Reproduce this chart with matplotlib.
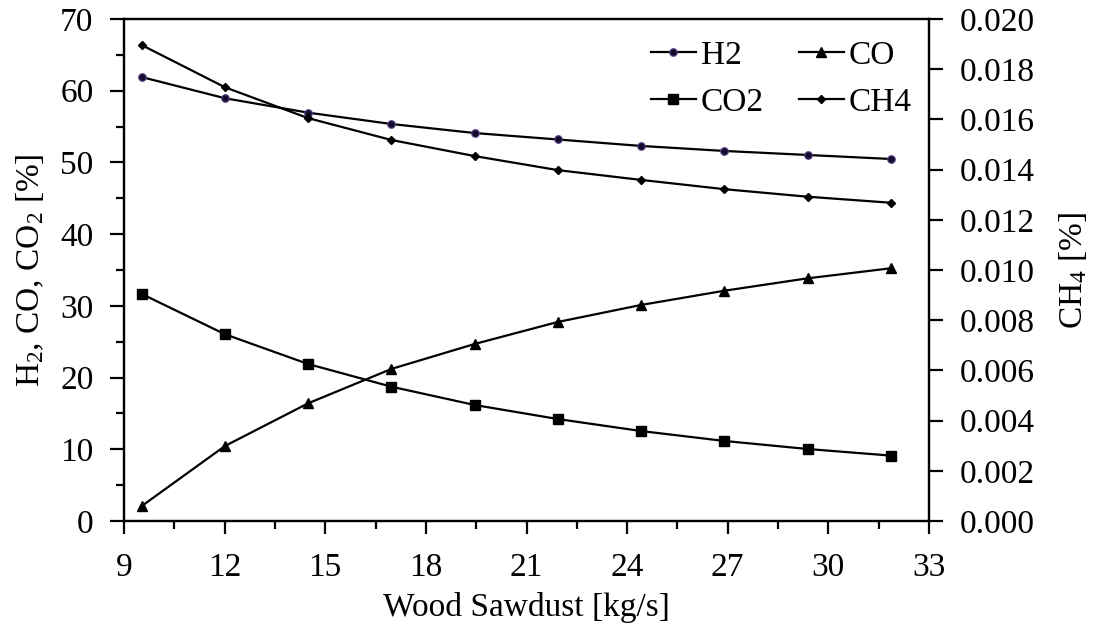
import matplotlib.pyplot as plt
from matplotlib.ticker import MultipleLocator

plt.rcParams['font.family'] = ['Liberation Serif', 'DejaVu Serif']
plt.rcParams['mathtext.fontset'] = 'custom'
plt.rcParams['mathtext.rm'] = 'Liberation Serif'
plt.rcParams['mathtext.it'] = 'Liberation Serif:italic'

# data
sawdust = [9.53, 12.01, 14.49, 16.97, 19.45, 21.93, 24.41, 26.90, 29.38, 31.86]
h2 = [61.9, 58.95, 56.94, 55.36, 54.1, 53.2, 52.3, 51.6, 51.04, 50.48]
co = [2.09, 10.46, 16.41, 21.2, 24.68, 27.75, 30.12, 32.11, 33.84, 35.24]
co2 = [31.66, 26.04, 21.89, 18.73, 16.18, 14.22, 12.55, 11.16, 10.04, 9.12]
ch4 = [0.01896, 0.01728, 0.01605, 0.01518, 0.01454, 0.01398, 0.01359, 0.01322, 0.01292, 0.01268]

fs = 24

fig = plt.figure(figsize=(10.94, 6.35), dpi=100)
ax = fig.add_axes([124 / 1094, 1 - 521 / 635, (929 - 124) / 1094, (521 - 19) / 635])
ax2 = ax.twinx()

l1, = ax.plot(sawdust, h2, color='black', lw=1.6, marker='o', ms=5.5,
              mfc='#140c2a', mec='#5b468f', mew=0.8, label='H2')
l2, = ax.plot(sawdust, co, color='black', lw=1.6, marker='^', ms=6.5, label='CO')
l3, = ax.plot(sawdust, co2, color='black', lw=1.6, marker='s', ms=6.5, label='CO2')
l4, = ax2.plot(sawdust, ch4, color='black', lw=1.6, marker='D', ms=4, label='CH4')

ax.set_xlim(9, 33)
ax.set_ylim(0, 70)
ax2.set_ylim(0, 0.020)
ax.xaxis.set_major_locator(MultipleLocator(3))
ax.xaxis.set_minor_locator(MultipleLocator(1.5))
ax.yaxis.set_major_locator(MultipleLocator(10))
ax.yaxis.set_minor_locator(MultipleLocator(5))
ax2.yaxis.set_major_locator(MultipleLocator(0.002))
ax2.yaxis.set_major_formatter(plt.FormatStrFormatter('%.3f'))

for a in (ax, ax2):
    for s in a.spines.values():
        s.set_linewidth(1.6)
ax.tick_params(which='major', direction='out', length=10, width=1.6, labelsize=fs, pad=12)
ax.tick_params(which='minor', direction='out', length=6, width=1.6)
ax.tick_params(axis='x', which='major', length=9, pad=14)
ax2.tick_params(which='major', direction='out', length=10, width=1.6, labelsize=fs, pad=12)

ax.set_xlabel('Wood Sawdust [kg/s]', fontsize=fs, labelpad=6)
ax.set_ylabel(r'H$_2$, CO, CO$_2$ [%]', fontsize=fs, labelpad=10)
ax2.set_ylabel(r'CH$_4$ [%]', fontsize=fs, labelpad=16)

ax.legend(handles=[l1, l3, l2, l4], ncol=2, frameon=False, fontsize=fs,
          loc='upper right', bbox_to_anchor=(1.016, 1.017), handlelength=1.35,
          handletextpad=0.15, columnspacing=1.05, labelspacing=0.5)

fig.savefig('out.png', dpi=100)
